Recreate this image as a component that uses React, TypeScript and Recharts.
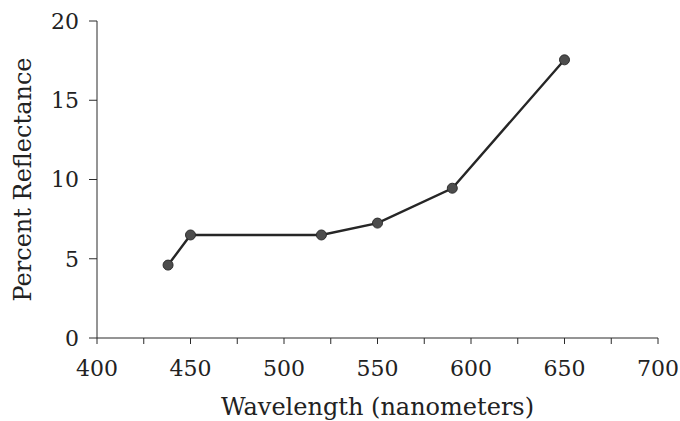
import { LineChart, Line, XAxis, YAxis } from 'recharts';

const wavelengths = [438, 450, 520, 550, 590, 650];
const reflectance = [4.6, 6.5, 6.5, 7.25, 9.45, 17.55];
const xTicks = [400, 425, 450, 475, 500, 525, 550, 575, 600, 625, 650, 675, 700];
const yTicks = [0, 5, 10, 15, 20];

const data = wavelengths.map((w, i) => ({ wavelength: w, reflectance: reflectance[i] }));

const font = '"DejaVu Serif", serif';
const ink = '#2b2b2b';

export default function App() {
  return (
    <div style={{ position: 'fixed', left: 0, top: 0, background: '#fff' }}>
      <LineChart
        width={680}
        height={421}
        data={data}
        margin={{ top: 21, right: 22, bottom: 0, left: 0 }}
      >
        <XAxis
          dataKey="wavelength"
          type="number"
          domain={[400, 700]}
          ticks={xTicks}
          interval={0}
          tickFormatter={(v) => (v % 50 === 0 ? String(v) : '')}
          height={83}
          stroke={ink}
          tickSize={6}
          tickMargin={16}
          tick={{ fill: '#222', fontSize: 22, fontFamily: font }}
          label={{
            value: 'Wavelength (nanometers)',
            position: 'insideBottom',
            offset: 6,
            style: { fill: '#222', fontSize: 24, fontFamily: font },
          }}
        />
        <YAxis
          type="number"
          domain={[0, 20]}
          ticks={yTicks}
          interval={0}
          width={97}
          stroke={ink}
          tickSize={8}
          tickMargin={10}
          tick={{ fill: '#222', fontSize: 22, fontFamily: font }}
          label={{
            value: 'Percent Reflectance',
            angle: -90,
            position: 'insideLeft',
            offset: 22,
            style: { fill: '#222', fontSize: 24, fontFamily: font, textAnchor: 'middle' },
          }}
        />
        <Line
          dataKey="reflectance"
          stroke="#262626"
          strokeWidth={2.4}
          dot={{ r: 5, fill: '#4d4d4d', stroke: '#2e2e2e', strokeWidth: 1 }}
          isAnimationActive={false}
        />
      </LineChart>
    </div>
  );
}
